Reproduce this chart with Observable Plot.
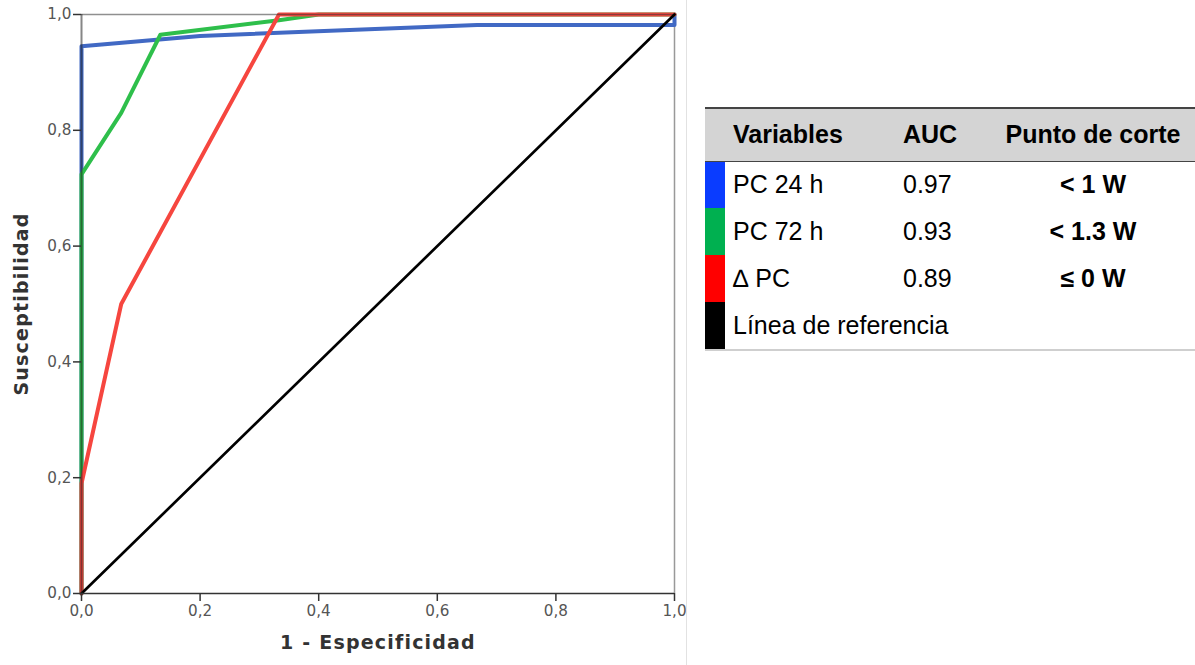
<!DOCTYPE html>
<html><head><meta charset="utf-8">
<script src="https://cdn.jsdelivr.net/npm/d3@7"></script>
<script src="https://cdn.jsdelivr.net/npm/@observablehq/plot@0.6"></script>
<style>
html,body{margin:0;padding:0;background:#fff;}
body{width:1195px;height:665px;position:relative;overflow:hidden;}
#chart{position:absolute;left:0;top:0;}
#sep{position:absolute;left:686px;top:0;width:1px;height:665px;background:#e2e2e2;}
#legend{position:absolute;left:705px;top:108px;width:490px;font-family:"Liberation Sans",Arial,Helvetica,sans-serif;font-size:25px;color:#000;}
.row{position:absolute;left:0;width:490px;}
.cell{position:absolute;top:0;white-space:nowrap;}
.sw{position:absolute;left:0;top:0;width:20px;}
</style>
</head><body>
<div id="chart"></div>
<div id="sep"></div>
<div id="legend"></div>
<script>
// ---- data ----
const series = ["PC 24 h", "PC 72 h", "\u2206 PC", "L\u00ednea de referencia"];
const fpr_pc24 = [0, 0, 0.2, 0.667, 1, 1];
const sens_pc24 = [0, 0.945, 0.963, 0.982, 0.982, 1];
const fpr_pc72 = [0, 0, 0.067, 0.133, 0.333, 0.4, 1];
const sens_pc72 = [0, 0.724, 0.83, 0.965, 0.99, 1, 1];
const fpr_dpc = [0, 0, 0.067, 0.333, 1];
const sens_dpc = [0, 0.19, 0.5, 1, 1];
const fpr_ref = [0, 1];
const sens_ref = [0, 1];
const aucValues = ["0.97", "0.93", "0.89", ""];
const cutoffs = ["< 1 W", "< 1.3 W", "\u2264 0 W", ""];
const xTicks = [0, 0.2, 0.4, 0.6, 0.8, 1.0];
const yTicks = [0, 0.2, 0.4, 0.6, 0.8, 1.0];
const headers = ["Variables", "AUC", "Punto de corte"];

// ---- styles ----
const lineColors = ["#4169c4", "#2ebf4b", "#f6463f", "#000000"];
const swatchColors = ["#0a3cff", "#00b050", "#ff0000", "#000000"];

const fprs = [fpr_pc24, fpr_pc72, fpr_dpc, fpr_ref];
const senss = [sens_pc24, sens_pc72, sens_dpc, sens_ref];
const rows = series.flatMap((s, i) => fprs[i].map((x, j) => ({series: s, x, y: senss[i][j]})));
const fmt = d => d.toFixed(1).replace(".", ",");

const lineMark = (i, w) => Plot.line(rows.filter(d => d.series === series[i]), {
  x: "x", y: "y", stroke: "series", strokeWidth: w, strokeLinejoin: "round", strokeLinecap: "round"
});

const chart = Plot.plot({
  width: 686, height: 665,
  marginLeft: 81, marginRight: 12, marginTop: 14, marginBottom: 72,
  style: {fontFamily: "DejaVu Sans", fontSize: "15.2px", color: "#555", background: "transparent"},
  x: {domain: [0, 1]},
  y: {domain: [0, 1]},
  color: {domain: series, range: lineColors},
  marks: [
    Plot.ruleX([1], {stroke: "#999", strokeWidth: 1.5}),
    lineMark(0, 4),
    lineMark(1, 4),
    lineMark(2, 4),
    Plot.ruleY([1], {stroke: "#333", strokeOpacity: 0.55, strokeWidth: 1.5}),
    lineMark(3, 2.7),
    Plot.ruleX([0], {stroke: "#222", strokeOpacity: 0.55, strokeWidth: 2}),
    Plot.ruleY([0], {stroke: "#333", strokeWidth: 1.5}),
    Plot.axisX({ticks: xTicks, tickFormat: fmt, tickSize: 8, tickPadding: 4, stroke: "#333", strokeWidth: 1.5, label: null}),
    Plot.axisY({ticks: yTicks, tickFormat: fmt, tickSize: 8, tickPadding: 2, stroke: "#333", strokeWidth: 1.5, label: null}),
    Plot.text(["1 - Especificidad"], {frameAnchor: "bottom", dy: 55, fontWeight: "bold", fontSize: 19, fill: "#333", textAnchor: "middle"}),
    Plot.text(["Susceptibilidad"], {frameAnchor: "left", dx: -60, rotate: -90, fontWeight: "bold", fontSize: 19, fill: "#333", textAnchor: "middle"})
  ]
});
d3.select(chart).selectAll("text").filter(function() {
  return this.textContent === "1 - Especificidad" || this.textContent === "Susceptibilidad";
}).attr("letter-spacing", "1.2px");
document.getElementById("chart").appendChild(chart);

// ---- legend table ----
const legend = document.getElementById("legend");
const colLeft = [28, 198];
const col3Center = 388;
function addRow(top, h, cells, opts) {
  const r = document.createElement("div");
  r.className = "row";
  r.style.top = top + "px";
  r.style.height = h + "px";
  r.style.lineHeight = h + "px";
  if (opts.bg) r.style.background = opts.bg;
  if (opts.swatch) {
    const s = document.createElement("div");
    s.className = "sw"; s.style.height = h + "px"; s.style.background = opts.swatch;
    r.appendChild(s);
  }
  cells.forEach((t, k) => {
    const c = document.createElement("div");
    c.className = "cell";
    c.textContent = t;
    if (opts.bold || (k === 2 && opts.boldLast)) c.style.fontWeight = "bold";
    if (k < 2) { c.style.left = colLeft[k] + "px"; }
    else { c.style.left = (col3Center - 150) + "px"; c.style.width = "300px"; c.style.textAlign = "center"; }
    r.appendChild(c);
  });
  legend.appendChild(r);
}
addRow(0, 53, headers, {bg: "#d4d4d4", bold: true});
series.forEach((s, i) => addRow(53 + i * 47, 47, [s, aucValues[i], cutoffs[i]], {swatch: swatchColors[i], boldLast: true}));
const lineDiv = (top, color, w) => {
  const d = document.createElement("div");
  d.style.cssText = `position:absolute;left:0;top:${top}px;width:490px;height:${w}px;background:${color};`;
  legend.appendChild(d);
};
lineDiv(-1, "#444", 1.5);
lineDiv(52.5, "#444", 1.5);
lineDiv(53 + 4 * 47, "#cfcfcf", 1.5);
</script>
</body></html>
